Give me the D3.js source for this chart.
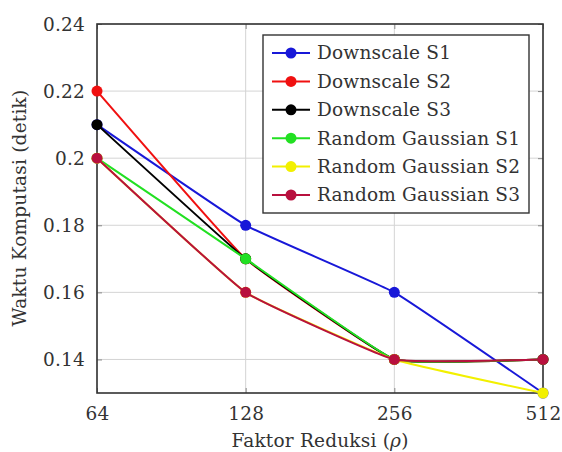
<!DOCTYPE html>
<html>
<head>
<meta charset="utf-8">
<script src="https://cdn.jsdelivr.net/npm/d3@7"></script>
<style>
  body { margin: 0; background: #fff; }
  svg text { font-family: "DejaVu Serif", serif; font-size: 18.5px; letter-spacing: 0.2px; fill: #333; }
</style>
</head>
<body>
<svg id="svg" width="562" height="452"></svg>
<script>
// categories on the x axis (evenly spaced)
var factors = ["64", "128", "256", "512"];
var yTicks = [0.14, 0.16, 0.18, 0.2, 0.22, 0.24];

// one array per series
var downscaleS1 = [0.21, 0.18, 0.16, 0.13];
var downscaleS2 = [0.22, 0.17, 0.14, 0.14];
var downscaleS3 = [0.21, 0.17, 0.14, 0.14];
var gaussianS1 = [0.20, 0.17, 0.14, 0.14];
var gaussianS2 = [0.20, 0.16, 0.14, 0.13];
var gaussianS3 = [0.20, 0.16, 0.14, 0.14];

var seriesNames = ["Downscale S1", "Downscale S2", "Downscale S3",
  "Random Gaussian S1", "Random Gaussian S2", "Random Gaussian S3"];
var seriesValues = [downscaleS1, downscaleS2, downscaleS3, gaussianS1, gaussianS2, gaussianS3];
var colors = ["#1818d8", "#f01010", "#000000", "#22e022", "#f2f000", "#b8103e"];

var svg = d3.select("#svg");
// plot frame ("top" is taken by window.top, so other names)
var pLeft = 97, pRight = 543, pTop = 24, pBottom = 393;

var x = d3.scalePoint().domain(factors).range([pLeft, pRight]);
var y = d3.scaleLinear().domain([0.13, 0.24]).range([pBottom, pTop]);

// grid
svg.append("g").selectAll("line").data(yTicks).enter().append("line")
  .attr("x1", pLeft).attr("x2", pRight)
  .attr("y1", function(d) { return y(d); }).attr("y2", function(d) { return y(d); })
  .attr("stroke", "#d4d4d4").attr("stroke-width", 1);
svg.append("g").selectAll("line").data(factors).enter().append("line")
  .attr("x1", function(d) { return x(d); }).attr("x2", function(d) { return x(d); })
  .attr("y1", pTop).attr("y2", pBottom)
  .attr("stroke", "#d4d4d4").attr("stroke-width", 1);

// axes (ticks inward, like pgfplots)
var yAxis = d3.axisLeft(y).tickValues(yTicks).tickSize(-5).tickPadding(12)
  .tickFormat(function(d) { return String(+d.toFixed(2)); });
var gy = svg.append("g").attr("transform", "translate(" + pLeft + ",0)").call(yAxis);
var xAxis = d3.axisBottom(x).tickSize(-5).tickPadding(14);
var gx = svg.append("g").attr("transform", "translate(0," + pBottom + ")").call(xAxis);
svg.append("g").attr("transform", "translate(" + pRight + ",0)")
  .call(d3.axisRight(y).tickValues(yTicks).tickSize(-5).tickFormat(""));
svg.append("g").attr("transform", "translate(0," + pTop + ")")
  .call(d3.axisTop(x).tickSize(-5).tickFormat(""));
svg.selectAll(".domain").remove();
svg.selectAll("g").attr("font-family", null).attr("font-size", null);
svg.selectAll(".tick line").attr("stroke", "#888");
gy.selectAll("text").attr("dy", "0.35em");
svg.selectAll(".tick text").attr("fill", "#333");

svg.append("rect").attr("x", pLeft).attr("y", pTop)
  .attr("width", pRight - pLeft).attr("height", pBottom - pTop)
  .attr("fill", "none").attr("stroke", "#333").attr("stroke-width", 1.6);

// series
var line = d3.line()
  .x(function(d, i) { return x(factors[i]); })
  .y(function(d) { return y(d); })
  .curve(d3.curveCardinal.tension(0.7));

seriesValues.forEach(function(vals, s) {
  svg.append("path").attr("d", line(vals))
    .attr("fill", "none").attr("stroke", colors[s]).attr("stroke-width", 2);
  svg.append("g").selectAll("circle").data(vals).enter().append("circle")
    .attr("cx", function(d, i) { return x(factors[i]); })
    .attr("cy", function(d) { return y(d); })
    .attr("r", 5.5).attr("fill", colors[s]);
});

// legend
var lg = svg.append("g");
lg.append("rect").attr("x", 263).attr("y", 35).attr("width", 266).attr("height", 178)
  .attr("fill", "#fff").attr("stroke", "#333").attr("stroke-width", 1.4);
var rows = lg.selectAll("g.row").data(seriesNames).enter().append("g")
  .attr("transform", function(d, i) { return "translate(0," + (53 + i * 28.4) + ")"; });
rows.append("line").attr("x1", 272).attr("x2", 310).attr("y1", 0).attr("y2", 0)
  .attr("stroke", function(d, i) { return colors[i]; }).attr("stroke-width", 2);
rows.append("circle").attr("cx", 291).attr("cy", 0).attr("r", 5.5)
  .attr("fill", function(d, i) { return colors[i]; });
rows.append("text").attr("x", 317).attr("dy", "0.35em").text(function(d) { return d; });

// axis titles
var xt = svg.append("text").attr("x", 320).attr("y", 447).attr("text-anchor", "middle");
xt.append("tspan").text("Faktor Reduksi (");
xt.append("tspan").attr("font-style", "italic").text("ρ");
xt.append("tspan").text(")");
svg.append("text").attr("transform", "translate(26,208) rotate(-90)")
  .attr("text-anchor", "middle").text("Waktu Komputasi (detik)");
</script>
</body>
</html>
